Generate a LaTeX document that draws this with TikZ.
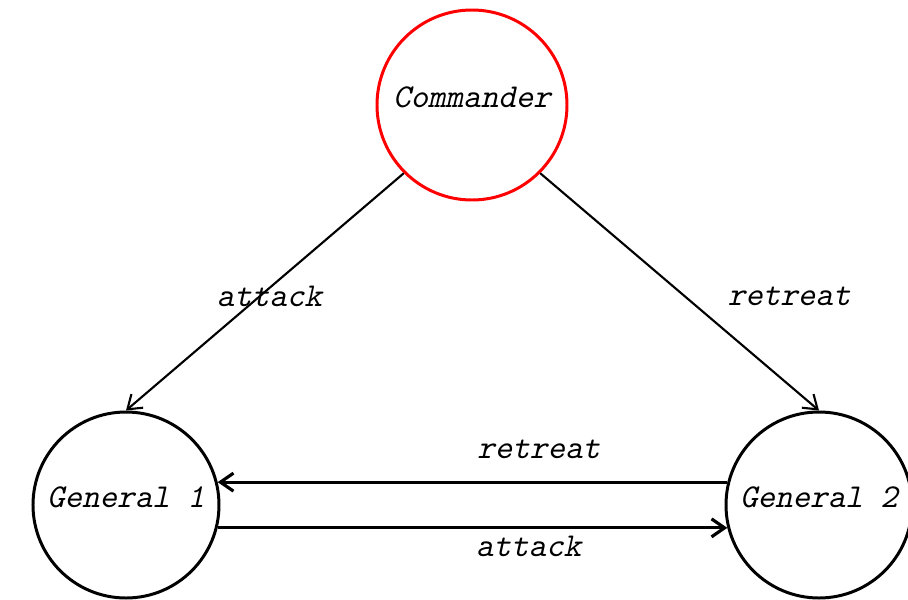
\documentclass[tikz,border=0pt]{standalone}
\usepackage{fontspec}
\newfontfamily\slmono[FakeSlant=0.22]{lmmono10-regular.otf}
\usetikzlibrary{arrows.meta, positioning}
\tikzset{
    general/.style={circle, draw, line width=1.7pt, minimum size=3.72cm, inner sep=0pt, text depth=0.3cm, font=\fontsize{19}{22}\selectfont\slmono},
    commander/.style={general, draw=red, minimum size=3.8cm},
    order/.style={line width=1.2pt, -{Straight Barb[length=0.26cm, width=0.36cm]}},
    message/.style={order, line width=1.8pt},
    msg/.style={font=\fontsize{19}{22}\selectfont\slmono}
}

\begin{document}
\begin{tikzpicture}[node distance=8cm and 6.92cm]
    \useasboundingbox (-9.44,2.1) rectangle (8.72,-9.88);
    \node (cmd) [commander] {Commander};
    \node (g1) [general, on grid, below left=of cmd] {General 1};
    \node (g2) [general, on grid, below right=8cm and 6.94cm of cmd] {General 2};
    % orders from the commander
    \draw [order] (cmd.225) -- node[msg, pos=0.52, xshift=0.2cm] {attack} (g1.north);
    \draw [order] (cmd.-45) -- node[msg, pos=0.52, xshift=2.08cm] {retreat} (g2.north);
    % messages between the generals
    \draw [message] (g2.166) -- node[msg, pos=0.37, yshift=0.66cm] {retreat} (g1.14);
    \draw [message] (g1.-14) -- node[msg, pos=0.61, yshift=-0.38cm] {attack} (g2.194);
\end{tikzpicture}
\end{document}
